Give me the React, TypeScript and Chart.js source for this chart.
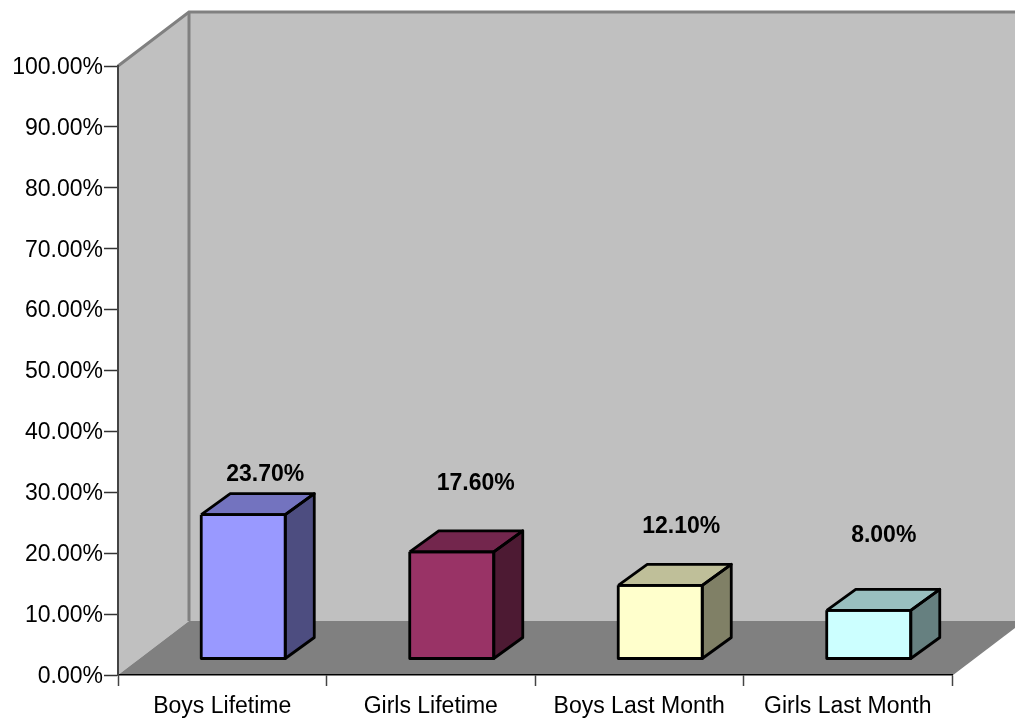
import React, { useEffect, useRef } from "react";
import { Chart, registerables } from "chart.js";

Chart.register(...registerables);

const categories = ["Boys Lifetime", "Girls Lifetime", "Boys Last Month", "Girls Last Month"];
const percentages = [23.7, 17.6, 12.1, 8.0];
const frontColors = ["#9999FF", "#993366", "#FFFFCC", "#CCFFFF"];
const topColors = ["#7373BF", "#73264D", "#BFBF99", "#99BFBF"];
const sideColors = ["#4D4D80", "#4D1A33", "#808066", "#668080"];
// Value labels sit at hand-tuned heights above each column.
const labelLift = [40, 68, 59, 75];
const labelShift = [22, 24, 21, 15];

const FONT = '"Liberation Sans", Arial, sans-serif';
// Oblique projection: room depth, and where columns stand inside the room.
const ROOM_DX = 71;
const ROOM_DY = 54;
const BAR_OFFSET_X = 21;
const BAR_OFFSET_Y = 16;
const BAR_DX = 29;
const BAR_DY = 21;
const EDGE_WIDTH = 2.8;

function fillPoly(ctx: CanvasRenderingContext2D, pts: number[][], fill: string) {
  ctx.beginPath();
  pts.forEach(([x, y], i) => (i ? ctx.lineTo(x, y) : ctx.moveTo(x, y)));
  ctx.closePath();
  ctx.fillStyle = fill;
  ctx.fill();
}

function strokeLine(ctx: CanvasRenderingContext2D, pts: number[][], color: string, width: number) {
  ctx.beginPath();
  pts.forEach(([x, y], i) => (i ? ctx.lineTo(x, y) : ctx.moveTo(x, y)));
  ctx.strokeStyle = color;
  ctx.lineWidth = width;
  ctx.stroke();
}

const roomPlugin = {
  id: "room3d",
  beforeDraw(chart: any) {
    const { ctx, chartArea: a } = chart;
    const bx = a.left + ROOM_DX;
    const by = a.top - ROOM_DY;
    const fy = a.bottom - ROOM_DY;
    ctx.save();
    fillPoly(ctx, [[bx, by], [a.right + ROOM_DX, by], [a.right + ROOM_DX, fy], [bx, fy]], "#C0C0C0");
    fillPoly(ctx, [[a.left, a.top], [bx, by], [bx, fy], [a.left, a.bottom]], "#C0C0C0");
    fillPoly(ctx, [[a.left, a.bottom], [bx, fy], [a.right + ROOM_DX, fy], [a.right, a.bottom]], "#808080");
    strokeLine(ctx, [[a.left, a.top], [bx, by], [a.right + ROOM_DX, by]], "#808080", 3);
    strokeLine(ctx, [[bx, by], [bx, fy]], "#808080", 3);
    strokeLine(ctx, [[a.right, a.bottom], [a.right + ROOM_DX, fy]], "#808080", 1.5);
    ctx.restore();
  },
};

const columnPlugin = {
  id: "column3d",
  // The library's bar elements draw the front faces, moved onto the room floor.
  beforeDatasetDraw(chart: any) {
    chart.ctx.save();
    chart.ctx.translate(BAR_OFFSET_X, -BAR_OFFSET_Y);
  },
  afterDatasetDraw(chart: any, args: any) {
    const { ctx } = chart;
    ctx.restore();
    ctx.save();
    ctx.lineJoin = "round";
    args.meta.data.forEach((bar: any, i: number) => {
      const l = bar.x - bar.width / 2 + BAR_OFFSET_X;
      const r = bar.x + bar.width / 2 + BAR_OFFSET_X;
      const t = bar.y - BAR_OFFSET_Y;
      const b = bar.base - BAR_OFFSET_Y;
      const frontFace = [[l, t], [r, t], [r, b], [l, b]];
      const topFace = [[l, t], [l + BAR_DX, t - BAR_DY], [r + BAR_DX, t - BAR_DY], [r, t]];
      const sideFace = [[r, t], [r + BAR_DX, t - BAR_DY], [r + BAR_DX, b - BAR_DY], [r, b]];
      fillPoly(ctx, topFace, topColors[i]);
      fillPoly(ctx, sideFace, sideColors[i]);
      strokeLine(ctx, [...topFace, topFace[0]], "#000000", EDGE_WIDTH);
      strokeLine(ctx, [...sideFace, sideFace[0]], "#000000", EDGE_WIDTH);
      strokeLine(ctx, [...frontFace, frontFace[0]], "#000000", EDGE_WIDTH);
    });
    ctx.restore();
  },
  afterDatasetsDraw(chart: any) {
    const { ctx } = chart;
    const meta = chart.getDatasetMeta(0);
    ctx.save();
    ctx.font = `bold 23px ${FONT}`;
    ctx.fillStyle = "#000000";
    ctx.textAlign = "center";
    ctx.textBaseline = "middle";
    meta.data.forEach((bar: any, i: number) => {
      const text = `${percentages[i].toFixed(2)}%`;
      ctx.fillText(text, bar.x + BAR_OFFSET_X + labelShift[i], bar.y - BAR_OFFSET_Y - labelLift[i]);
    });
    ctx.restore();
  },
};

export default function App() {
  const ref = useRef<HTMLCanvasElement | null>(null);

  useEffect(() => {
    document.body.style.margin = "0";
    const chart = new Chart(ref.current as HTMLCanvasElement, {
      type: "bar",
      data: {
        labels: categories,
        datasets: [
          {
            data: percentages,
            backgroundColor: frontColors,
            borderWidth: 0,
            barPercentage: 1,
            categoryPercentage: 0.403,
            clip: false,
          },
        ],
      },
      plugins: [roomPlugin, columnPlugin],
      options: {
        responsive: false,
        animation: false,
        layout: { padding: { top: 66, right: 63, left: 0, bottom: 0 } },
        plugins: { legend: { display: false }, tooltip: { enabled: false }, title: { display: false } },
        scales: {
          x: {
            afterFit(scale: any) {
              scale.height = 45;
            },
            border: { display: true, color: "#000000", width: 1.5 },
            grid: { drawOnChartArea: false, drawTicks: true, tickLength: 11, tickWidth: 1.5, tickColor: "#444444", offset: true },
            ticks: {
              color: "#000000",
              font: { family: FONT, size: 23 },
              padding: 7,
              maxRotation: 0,
              autoSkip: false,
            },
          },
          y: {
            min: 0,
            max: 100,
            afterFit(scale: any) {
              scale.width = 118;
            },
            border: { display: true, color: "#444444", width: 2 },
            grid: { drawOnChartArea: false, drawTicks: true, tickLength: 14, tickWidth: 1.5, tickColor: "#333333" },
            ticks: {
              stepSize: 10,
              color: "#000000",
              font: { family: FONT, size: 23 },
              padding: 1,
              labelOffset: 1.5,
              callback: (v: any) => `${Number(v).toFixed(2)}%`,
            },
          },
        },
      },
    });
    return () => chart.destroy();
  }, []);

  return (
    <div style={{ width: 1015, height: 720, background: "#FFFFFF" }}>
      <canvas ref={ref} width={1015} height={720} style={{ display: "block" }} />
    </div>
  );
}
